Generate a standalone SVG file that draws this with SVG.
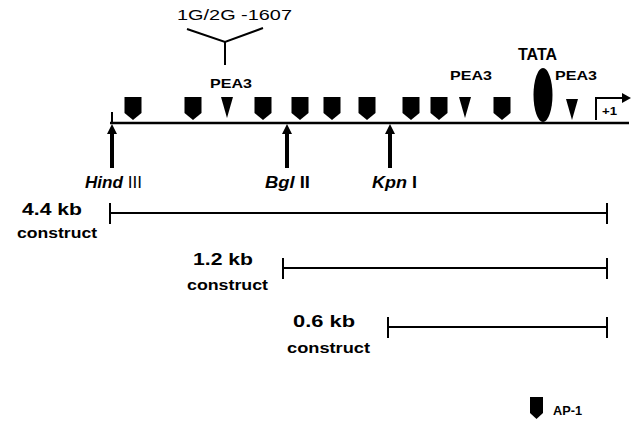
<svg xmlns="http://www.w3.org/2000/svg" width="638" height="421" viewBox="0 0 638 421">
<style>
.t{font-family:"Liberation Sans",Arial,sans-serif;font-weight:bold;fill:#000}
.n{font-weight:normal}
.ln{stroke:#000;stroke-width:2.5;fill:none}
.thin{stroke:#000;stroke-width:2;fill:none}
</style>
<defs>
<path id="ap1" d="M-8.5,0 H8.5 V16 L0,23 L-8.5,16 Z" fill="#000"/>
<path id="pea" d="M-6,0 H6 L0,21 Z" fill="#000"/>
<path id="up" d="M-2,44 V10 H-5 L0,0 L5,10 H2 V44 Z" fill="#000"/>
</defs>
<rect width="638" height="421" fill="#fff"/>

<g id="connectors">
<line class="ln" x1="110" y1="123" x2="629" y2="123"/>
<line class="thin" x1="112" y1="112" x2="112" y2="123"/>
<path class="thin" d="M187,29 L225,42 L263,28 M225,42 V65"/>
<path class="thin" d="M596,120 V98 H624"/>
<path d="M622,93 L631,98 L622,103 Z" fill="#000"/>
</g>

<g id="label-1g2g"><text class="t n" x="177" y="20" font-size="15" textLength="115" lengthAdjust="spacingAndGlyphs">1G/2G  -1607</text></g>

<g id="ap1-sites">
<use href="#ap1" x="133" y="97"/>
<use href="#ap1" x="193" y="97"/>
<use href="#ap1" x="263" y="97"/>
<use href="#ap1" x="300" y="97"/>
<use href="#ap1" x="332" y="97"/>
<use href="#ap1" x="367" y="97"/>
<use href="#ap1" x="411" y="97"/>
<use href="#ap1" x="439" y="97"/>
<use href="#ap1" x="502" y="97"/>
</g>

<g id="pea3-sites">
<use href="#pea" x="227" y="97"/>
<use href="#pea" x="465" y="97"/>
<use href="#pea" x="572" y="99"/>
<text class="t" x="210" y="88" font-size="13" textLength="42" lengthAdjust="spacingAndGlyphs">PEA3</text>
<text class="t" x="450" y="80" font-size="13" textLength="42" lengthAdjust="spacingAndGlyphs">PEA3</text>
<text class="t" x="555" y="80" font-size="13" textLength="42" lengthAdjust="spacingAndGlyphs">PEA3</text>
</g>

<g id="tata">
<ellipse cx="543" cy="95" rx="9.5" ry="27" fill="#000"/>
<text class="t" x="518" y="60" font-size="16" textLength="39" lengthAdjust="spacingAndGlyphs">TATA</text>
</g>

<g id="start"><text class="t" x="602" y="115" font-size="10" textLength="15" lengthAdjust="spacingAndGlyphs">+1</text></g>

<g id="hindiii">
<use href="#up" x="112" y="124"/>
<text class="t" x="85" y="188" font-size="16" textLength="57" lengthAdjust="spacingAndGlyphs"><tspan font-style="italic">Hind</tspan><tspan class="n"> III</tspan></text>
</g>
<g id="bglii">
<use href="#up" x="287" y="124"/>
<text class="t" x="265" y="188" font-size="16" textLength="45" lengthAdjust="spacingAndGlyphs"><tspan font-style="italic">Bgl</tspan> II</text>
</g>
<g id="kpni">
<use href="#up" x="390" y="124"/>
<text class="t" x="372" y="188" font-size="16" textLength="45" lengthAdjust="spacingAndGlyphs"><tspan font-style="italic">Kpn</tspan> I</text>
</g>

<g id="construct-44">
<path class="thin" d="M110,213 H607 M110,203 V224 M607,203 V224"/>
<text class="t" x="22" y="215" font-size="17" textLength="60" lengthAdjust="spacingAndGlyphs">4.4 kb</text>
<text class="t" x="17" y="238" font-size="15" textLength="80" lengthAdjust="spacingAndGlyphs">construct</text>
</g>
<g id="construct-12">
<path class="thin" d="M283,268 H607 M283,258 V279 M607,258 V279"/>
<text class="t" x="193" y="265" font-size="17" textLength="60" lengthAdjust="spacingAndGlyphs">1.2 kb</text>
<text class="t" x="187" y="290" font-size="15" textLength="81" lengthAdjust="spacingAndGlyphs">construct</text>
</g>
<g id="construct-06">
<path class="thin" d="M388,327 H607 M388,317 V338 M607,317 V338"/>
<text class="t" x="293" y="327" font-size="17" textLength="62" lengthAdjust="spacingAndGlyphs">0.6 kb</text>
<text class="t" x="287" y="353" font-size="15" textLength="83" lengthAdjust="spacingAndGlyphs">construct</text>
</g>

<g id="legend">
<path d="M530,397 H543 V413 L536.5,419 L530,413 Z" fill="#000"/>
<text class="t" x="553" y="415" font-size="13" textLength="29" lengthAdjust="spacingAndGlyphs">AP-1</text>
</g>
</svg>
